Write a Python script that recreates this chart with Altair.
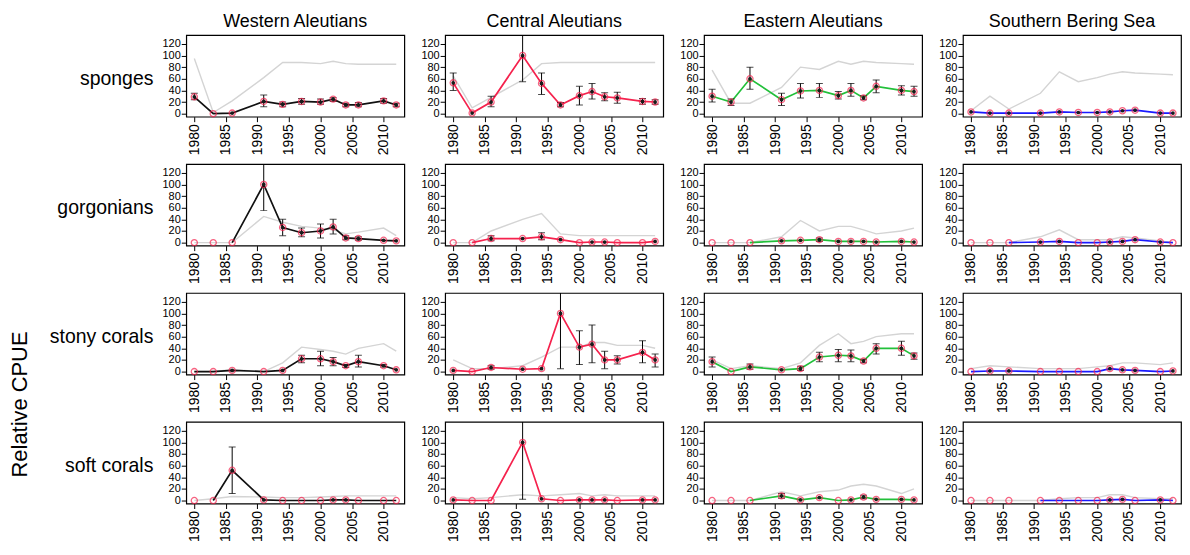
import altair as alt
import pandas as pd

years = [1980, 1983, 1986, 1991, 1994, 1997, 2000, 2002, 2004, 2006, 2010, 2012]
regions = ["Western Aleutians", "Central Aleutians", "Eastern Aleutians", "Southern Bering Sea"]
taxa = ["sponges", "gorgonians", "stony corals", "soft corals"]
region_colors = ["#111111", "#f5224d", "#22c03a", "#1a1aff"]
y_title = "Relative CPUE"
N = None

# ---- sponges ----
sponges_cpue = {
    "Western Aleutians": [29, 0, 1, 21, 16, 21, 20, 25, 15, 15, 22, 15],
    "Central Aleutians": [53, 1, 20, 100, 52, 15, 31, 38, 29, 27, 21, 20],
    "Eastern Aleutians": [30, 20, 60, 24, 39, 40, 31, 40, 27, 47, 40, 38],
    "Southern Bering Sea": [3, 1, 1, 1, 3, 2, 2, 3, 5, 6, 1, 1],
}
sponges_lo = {
    "Western Aleutians": [24, N, N, 12, 12, 16, 16, 21, 12, 12, 18, 12],
    "Central Aleutians": [40, N, 12, 55, 33, 12, 15, 25, 22, 18, 16, 16],
    "Eastern Aleutians": [20, 14, 42, 14, 27, 28, 25, 30, 24, 36, 32, 30],
    "Southern Bering Sea": [N] * 12,
}
sponges_hi = {
    "Western Aleutians": [35, N, N, 32, 20, 26, 25, 28, 18, 19, 26, 18],
    "Central Aleutians": [70, N, 30, 150, 70, 19, 47, 52, 36, 37, 26, 24],
    "Eastern Aleutians": [42, 25, 80, 35, 52, 52, 38, 52, 31, 58, 48, 47],
    "Southern Bering Sea": [N] * 12,
}
sponges_gray = {
    "Western Aleutians": [95, 2, 22, 62, 88, 88, 86, 90, 86, 85, 85, 85],
    "Central Aleutians": [65, 10, 28, 58, 86, 88, 88, 88, 88, 88, 88, 88],
    "Eastern Aleutians": [75, 18, 18, 45, 80, 76, 90, 85, 90, 88, 86, 85],
    "Southern Bering Sea": [5, 30, 8, 35, 72, 55, 62, 68, 72, 70, 68, 67],
}

# ---- gorgonians ----
gorgonians_cpue = {
    "Western Aleutians": [0, 0, 0, 100, 26, 17, 20, 27, 8, 7, 4, 3],
    "Central Aleutians": [0, 0, 7, 7, 10, 5, 0, 1, 1, 0, 0, 2],
    "Eastern Aleutians": [0, 0, 0, 3, 4, 5, 2, 2, 2, 1, 2, 1],
    "Southern Bering Sea": [0, 0, 0, 1, 2, 0, 0, 1, 2, 5, 1, 0],
}
gorgonians_lo = {
    "Western Aleutians": [N, N, N, 55, 12, 10, 8, 15, 5, 4, N, N],
    "Central Aleutians": [N, N, 3, N, 5, N, N, N, N, N, N, N],
    "Eastern Aleutians": [N, N, N, N, N, 2, N, N, N, N, N, N],
    "Southern Bering Sea": [N] * 12,
}
gorgonians_hi = {
    "Western Aleutians": [N, N, N, 150, 40, 25, 32, 40, 12, 10, N, N],
    "Central Aleutians": [N, N, 12, N, 17, N, N, N, N, N, N, N],
    "Eastern Aleutians": [N, N, N, N, N, 8, N, N, N, N, N, N],
    "Southern Bering Sea": [N] * 12,
}
gorgonians_gray = {
    "Western Aleutians": [0, 0, 0, 45, 35, 28, 25, 22, 15, 18, 25, 12],
    "Central Aleutians": [0, 0, 20, 40, 50, 15, 12, 12, 12, 12, 12, 12],
    "Eastern Aleutians": [0, 0, 0, 10, 38, 20, 28, 28, 22, 15, 20, 25],
    "Southern Bering Sea": [0, 0, 0, 10, 22, 5, 5, 5, 10, 8, 3, 0],
}

# ---- stony corals ----
stony_cpue = {
    "Western Aleutians": [0, 0, 2, 0, 2, 22, 22, 17, 10, 17, 10, 3],
    "Central Aleutians": [2, 0, 7, 4, 5, 100, 42, 47, 20, 20, 33, 20],
    "Eastern Aleutians": [17, 0, 8, 3, 5, 25, 28, 27, 18, 40, 40, 27],
    "Southern Bering Sea": [0, 1, 1, 0, 0, 0, 0, 5, 3, 2, 0, 1],
}
stony_lo = {
    "Western Aleutians": [N, N, N, N, N, 15, 10, 10, 7, 8, 8, N],
    "Central Aleutians": [N, N, 4, N, N, 5, 12, 15, 5, 13, 15, 8],
    "Eastern Aleutians": [8, N, 4, N, 2, 17, 17, 17, 15, 30, 28, 21],
    "Southern Bering Sea": [N] * 12,
}
stony_hi = {
    "Western Aleutians": [N, N, N, N, N, 28, 35, 24, 12, 28, 12, N],
    "Central Aleutians": [N, N, 10, N, N, 150, 70, 80, 35, 27, 53, 30],
    "Eastern Aleutians": [25, N, 13, N, 9, 33, 38, 37, 21, 48, 52, 32],
    "Southern Bering Sea": [N] * 12,
}
stony_gray = {
    "Western Aleutians": [0, 0, 3, 0, 15, 42, 38, 35, 30, 40, 48, 35],
    "Central Aleutians": [20, 5, 5, 10, 25, 42, 42, 50, 50, 45, 45, 40],
    "Eastern Aleutians": [20, 5, 10, 5, 15, 45, 65, 48, 52, 60, 65, 65],
    "Southern Bering Sea": [5, 10, 8, 5, 5, 5, 8, 10, 15, 15, 12, 15],
}

# ---- soft corals ----
soft_cpue = {
    "Western Aleutians": [0, 0, 52, 1, 0, 0, 0, 1, 1, 0, 0, 0],
    "Central Aleutians": [1, 0, 0, 100, 3, 0, 1, 1, 1, 0, 1, 1],
    "Eastern Aleutians": [0, 0, 0, 8, 1, 5, 0, 1, 6, 2, 2, 1],
    "Southern Bering Sea": [0, 0, 0, 0, 0, 0, 0, 1, 2, 0, 1, 0],
}
soft_lo = {
    "Western Aleutians": [N, N, 12, N, N, N, N, N, N, N, N, N],
    "Central Aleutians": [N, N, N, 2, N, N, N, N, N, N, N, N],
    "Eastern Aleutians": [N, N, N, 4, N, N, N, N, 3, N, N, N],
    "Southern Bering Sea": [N] * 12,
}
soft_hi = {
    "Western Aleutians": [N, N, 92, N, N, N, N, N, N, N, N, N],
    "Central Aleutians": [N, N, N, 150, N, N, N, N, N, N, N, N],
    "Eastern Aleutians": [N, N, N, 12, N, N, N, N, 9, N, N, N],
    "Southern Bering Sea": [N] * 12,
}
soft_gray = {
    "Western Aleutians": [0, 3, 7, 6, 5, 5, 6, 7, 8, 8, 8, 8],
    "Central Aleutians": [5, 3, 5, 10, 8, 10, 12, 8, 10, 8, 8, 8],
    "Eastern Aleutians": [0, 0, 0, 15, 8, 15, 18, 25, 28, 25, 12, 20],
    "Southern Bering Sea": [0, 0, 0, 0, 3, 5, 5, 10, 10, 5, 3, 3],
}

# first survey year from which the coloured line is drawn
line_start = {
    "sponges": [1980, 1980, 1980, 1980],
    "gorgonians": [1986, 1983, 1986, 1986],
    "stony corals": [1980, 1980, 1980, 1980],
    "soft corals": [1983, 1980, 1986, 1991],
}

tables = {
    "sponges": (sponges_cpue, sponges_lo, sponges_hi, sponges_gray),
    "gorgonians": (gorgonians_cpue, gorgonians_lo, gorgonians_hi, gorgonians_gray),
    "stony corals": (stony_cpue, stony_lo, stony_hi, stony_gray),
    "soft corals": (soft_cpue, soft_lo, soft_hi, soft_gray),
}

rows = []
for t in taxa:
    cpue, lo, hi, gray = tables[t]
    for ri, r in enumerate(regions):
        for i, yr in enumerate(years):
            rows.append({
                "taxon": t, "region": r, "year": yr,
                "cpue": cpue[r][i],
                "line": cpue[r][i] if yr >= line_start[t][ri] else None,
                "lo": lo[r][i], "hi": hi[r][i],
                "gray": gray[r][i],
            })
df = pd.DataFrame(rows)

FONT = "Liberation Sans"
W, H = 219, 82

xenc = alt.X("year:Q",
             scale=alt.Scale(domain=[1978.72, 2013.28], nice=False, zero=False),
             axis=alt.Axis(values=[1980, 1985, 1990, 1995, 2000, 2005, 2010], format="d",
                           labelAngle=270, title=None, grid=False, domain=False,
                           tickColor="black", tickSize=5, labelFontSize=14,
                           labelColor="black", labelPadding=2, labelOverlap=False))
yscale = alt.Scale(domain=[-5.2, 135.2], nice=False, zero=False)
yaxis = alt.Axis(values=[0, 20, 40, 60, 80, 100, 120], title=None, grid=False, domain=False,
                 tickColor="black", tickSize=5, labelFontSize=11, labelColor="black",
                 labelPadding=1, labelOverlap=False)

base = alt.Chart().encode(x=xenc)

gray_line = base.mark_line(color="#d4d4d4", strokeWidth=1.4).encode(
    y=alt.Y("gray:Q", scale=yscale, axis=yaxis))
main_line = base.mark_line(strokeWidth=1.7, clip=True).encode(
    y=alt.Y("line:Q", scale=yscale, axis=yaxis),
    color=alt.Color("region:N", scale=alt.Scale(domain=regions, range=region_colors), legend=None))
err = base.mark_rule(color="black", strokeWidth=1, clip=True).encode(
    y=alt.Y("lo:Q", scale=yscale, axis=yaxis), y2="hi:Q")
cap_lo = base.mark_tick(color="black", orient="horizontal", size=7, thickness=1, clip=True).encode(
    y=alt.Y("lo:Q", scale=yscale, axis=yaxis))
cap_hi = base.mark_tick(color="black", orient="horizontal", size=7, thickness=1, clip=True).encode(
    y=alt.Y("hi:Q", scale=yscale, axis=yaxis))
rings = base.mark_point(shape="circle", filled=False, color="#f5224d", size=38,
                        strokeWidth=1.3).encode(y=alt.Y("cpue:Q", scale=yscale, axis=yaxis))
dots = base.mark_circle(color="#1a1a1a", size=14, opacity=1).encode(
    y=alt.Y("cpue:Q", scale=yscale, axis=yaxis)).transform_filter("datum.cpue > 0")

# row labels (left column), column titles (top row), y title
row_lab = alt.Chart().mark_text(font=FONT, fontSize=19.5, align="right", baseline="alphabetic",
                                color="black").encode(
    x=alt.value(-33), y=alt.value(50), text="taxon:N").transform_filter(
    "datum.region == 'Western Aleutians' && datum.year == 1980")
col_lab = alt.Chart().mark_text(font=FONT, fontSize=18, align="center", baseline="alphabetic",
                                color="black").encode(
    x=alt.value(W / 2), y=alt.value(-8), text="region:N").transform_filter(
    "datum.taxon == 'sponges' && datum.year == 1980")
ytitle = alt.Chart().mark_text(font=FONT, fontSize=22, align="center", baseline="alphabetic",
                               angle=270, color="black", text=y_title).encode(
    x=alt.value(-160), y=alt.value(112)).transform_filter(
    "datum.taxon == 'stony corals' && datum.region == 'Western Aleutians' && datum.year == 1980")

layered = alt.layer(gray_line, main_line, err, cap_lo, cap_hi, rings, dots,
                    row_lab, col_lab, ytitle, data=df).properties(width=W, height=H)

chart = layered.facet(
    row=alt.Row("taxon:N", sort=taxa, title=None, header=alt.Header(labels=False)),
    column=alt.Column("region:N", sort=regions, title=None, header=alt.Header(labels=False)),
    spacing={"row": 47.5, "column": 41},
).resolve_axis(x="independent", y="independent").properties(
    bounds="flush", padding={"left": 0, "top": 3, "right": 0, "bottom": 2}
).configure(font=FONT).configure_view(stroke="black", strokeWidth=1.2)

chart.save("out.html", embed_options={"renderer": "svg", "actions": False})
